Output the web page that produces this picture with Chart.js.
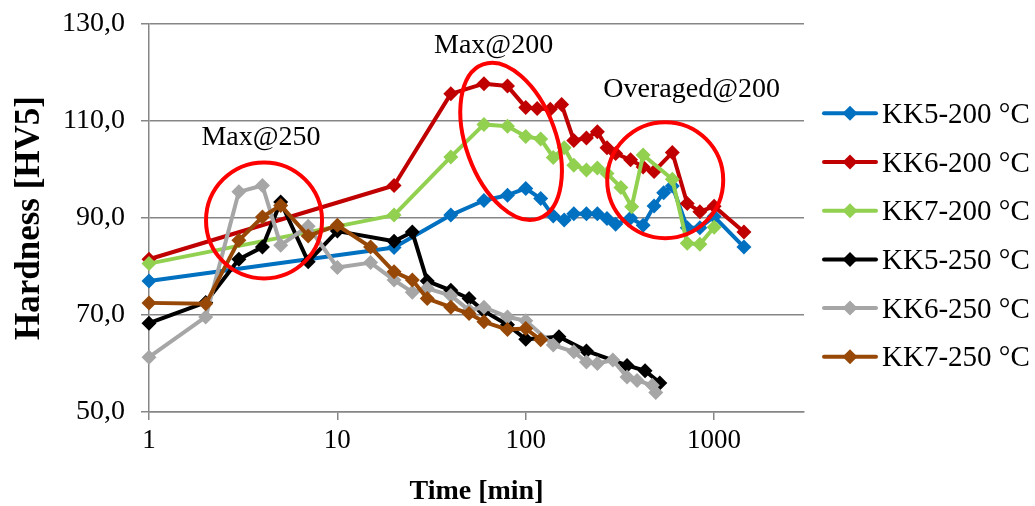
<!DOCTYPE html>
<html lang="en">
<head>
<meta charset="UTF-8">
<title>Hardness vs ageing time</title>
<script src="https://cdn.jsdelivr.net/npm/chart.js"></script>
<style>
  html, body { margin: 0; padding: 0; background: #fff; }
  #wrap { width: 1035px; height: 506px; position: relative; }
</style>
</head>
<body>
<div id="wrap"><canvas id="hardnessChart"></canvas></div>
<script>
// ageing time [min] and hardness [HV5] per series
const tKK5_200 = [1, 20, 40, 60, 80, 100, 120, 140, 160, 180, 210, 240, 270, 300, 360, 420, 480, 540, 600, 720, 840, 1000, 1440];
const hvKK5_200 = [77, 83.9, 90.6, 93.6, 94.7, 96.1, 94, 90.4, 89.6, 90.9, 90.9, 90.9, 89.9, 88.7, 90, 88.5, 92.5, 95.2, 96.6, 88, 88, 90.3, 84];

const tKK6_200 = [1, 20, 40, 60, 80, 100, 115, 135, 155, 180, 210, 240, 270, 300, 360, 420, 480, 600, 720, 840, 1000, 1440];
const hvKK6_200 = [81.5, 96.7, 115.6, 117.7, 117.2, 112.8, 112.6, 112.4, 113.4, 106, 106.5, 107.8, 104.5, 103.3, 102, 100.5, 99.6, 103.5, 93, 91.3, 92.4, 87.1];

const tKK7_200 = [1, 20, 40, 60, 80, 100, 120, 140, 160, 180, 210, 240, 270, 320, 365, 420, 600, 720, 840, 1000];
const hvKK7_200 = [80.6, 90.6, 102.6, 109.3, 108.9, 106.8, 106.3, 102.5, 104.5, 100.9, 99.9, 100.3, 99.2, 96.3, 92.3, 103, 98, 84.8, 84.6, 88.1];

const tKK5_250 = [1, 2, 3, 4, 5, 7, 10, 20, 25, 30, 40, 50, 60, 80, 100, 150, 210, 345, 430, 515];
const hvKK5_250 = [68.3, 72.6, 81.5, 84, 93.3, 81, 87.3, 85.2, 87.1, 77, 75.1, 73.4, 70.8, 68, 65, 65.5, 62.6, 59.6, 58.5, 56];

const tKK6_250 = [1, 2, 3, 4, 5, 7, 10, 15, 20, 25, 30, 40, 50, 60, 80, 100, 140, 180, 210, 240, 290, 345, 390, 470, 490];
const hvKK6_250 = [61.3, 69.6, 95.4, 96.7, 84.4, 88.3, 79.8, 80.8, 77.2, 74.7, 75.5, 74, 71, 71.6, 69.6, 68.8, 63.8, 62.4, 60.3, 60, 60.7, 57.2, 56.5, 55.5, 54];

const tKK7_250 = [1, 2, 3, 4, 5, 7, 10, 15, 20, 25, 30, 40, 50, 60, 80, 100, 120];
const hvKK7_250 = [72.5, 72.3, 85.4, 90.2, 92.6, 86.3, 88.5, 84, 78.9, 77.2, 73.4, 71.6, 70.3, 68.6, 67, 67.2, 64.9];

const seriesNames = ['KK5-200 °C', 'KK6-200 °C', 'KK7-200 °C', 'KK5-250 °C', 'KK6-250 °C', 'KK7-250 °C'];
const seriesTimes = [tKK5_200, tKK6_200, tKK7_200, tKK5_250, tKK6_250, tKK7_250];
const seriesHv = [hvKK5_200, hvKK6_200, hvKK7_200, hvKK5_250, hvKK6_250, hvKK7_250];
const seriesColors = ['#0070C0', '#C00000', '#92D050', '#000000', '#A6A6A6', '#974806'];

const xTicks = [1, 10, 100, 1000];

// callouts: text anchors and red rings, in data units
const noteLabels = ['Max@250', 'Max@200', 'Overaged@200'];
const noteTime = [3.93, 67.5, 760];
const noteHv = [105, 124, 114.9];
const ringTime = [4.08, 83.6, 550];
const ringHv = [89.5, 105.8, 97.8];
const ringShape = [[58, 58, 0], [45, 82, -0.35], [58, 58, 0]]; // rx, ry (px), rotation

const serif = "'Times New Roman', 'Liberation Serif', serif";
const axisGrey = '#868686';

const datasets = seriesNames.map((name, i) => ({
    label: name,
    data: seriesTimes[i].map((t, k) => ({ x: t, y: seriesHv[i][k] })),
    borderColor: seriesColors[i],
    backgroundColor: seriesColors[i],
    borderWidth: 4,
    borderJoinStyle: 'round',
    pointStyle: 'rectRot',
    pointRadius: 7.5,
    pointHoverRadius: 7.5,
    pointBorderWidth: 0,
    tension: 0,
    clip: false,
    order: seriesNames.length - i   // later series drawn on top, like Excel
}));

// red rings + callout text
const callouts = {
    id: 'callouts',
    afterDatasetsDraw(chart) {
        const { ctx, scales: { x, y } } = chart;
        ctx.save();
        ctx.strokeStyle = '#FF0000';
        ctx.lineWidth = 4;
        ringTime.forEach((t, i) => {
            const [rx, ry, rot] = ringShape[i];
            ctx.beginPath();
            ctx.ellipse(x.getPixelForValue(t), y.getPixelForValue(ringHv[i]), rx, ry, rot, 0, 2 * Math.PI);
            ctx.stroke();
        });
        ctx.fillStyle = '#000';
        ctx.font = '28px ' + serif;
        ctx.textAlign = 'center';
        ctx.textBaseline = 'alphabetic';
        noteLabels.forEach((txt, i) => {
            ctx.fillText(txt, x.getPixelForValue(noteTime[i]), y.getPixelForValue(noteHv[i]));
        });
        ctx.restore();
    }
};

// Excel style legend: line with diamond marker
const sideLegend = {
    id: 'sideLegend',
    afterDraw(chart) {
        const ctx = chart.ctx;
        ctx.save();
        ctx.font = '29px ' + serif;
        ctx.textBaseline = 'middle';
        ctx.textAlign = 'left';
        seriesNames.forEach((name, i) => {
            const yy = 113.3 + i * 48.7;
            ctx.strokeStyle = seriesColors[i];
            ctx.fillStyle = seriesColors[i];
            ctx.lineWidth = 4;
            ctx.lineCap = 'round';
            ctx.beginPath();
            ctx.moveTo(824, yy);
            ctx.lineTo(876, yy);
            ctx.stroke();
            ctx.beginPath();
            ctx.moveTo(850, yy - 7.5);
            ctx.lineTo(857.5, yy);
            ctx.lineTo(850, yy + 7.5);
            ctx.lineTo(842.5, yy);
            ctx.closePath();
            ctx.fill();
            ctx.fillStyle = '#000';
            ctx.fillText(name, 882, yy + 2);
        });
        ctx.restore();
    }
};

new Chart(document.getElementById('hardnessChart'), {
    type: 'line',
    data: { datasets: datasets },
    options: {
        responsive: true,
        maintainAspectRatio: false,
        animation: false,
        layout: { padding: { top: 24, right: 231, bottom: 0, left: 0 } },
        plugins: {
            legend: { display: false },
            tooltip: { enabled: false }
        },
        scales: {
            x: {
                type: 'logarithmic',
                min: 1,
                max: 3000,
                afterBuildTicks: s => { s.ticks = xTicks.map(v => ({ value: v })); },
                afterFit: s => { s.height = 94; },
                ticks: {
                    callback: v => String(v),
                    font: { family: serif, size: 27 },
                    color: '#000',
                    padding: 5,
                    maxRotation: 0,
                    autoSkip: false
                },
                grid: { drawOnChartArea: false, tickLength: 8, color: axisGrey, lineWidth: 1.5 },
                border: { color: axisGrey, width: 1.5 },
                title: {
                    display: true,
                    text: 'Time [min]',
                    font: { family: serif, size: 28, weight: 'bold', lineHeight: 1 },
                    color: '#000',
                    padding: 0
                }
            },
            y: {
                min: 50,
                max: 130,
                afterFit: s => { s.width = 149; s.paddingTop = 0; s.paddingBottom = 0; },
                ticks: {
                    stepSize: 20,
                    callback: v => v.toFixed(1).replace('.', ','),
                    font: { family: serif, size: 28, lineHeight: 1 },
                    color: '#000',
                    padding: 16
                },
                grid: { tickLength: 8, color: axisGrey, lineWidth: 1.5 },
                border: { color: axisGrey, width: 1.5 },
                title: {
                    display: true,
                    text: 'Hardness [HV5]',
                    font: { family: serif, size: 35, weight: 'bold', lineHeight: 1 },
                    color: '#000',
                    padding: { top: 12, bottom: 0 }
                }
            }
        }
    },
    plugins: [callouts, sideLegend]
});
</script>
</body>
</html>
